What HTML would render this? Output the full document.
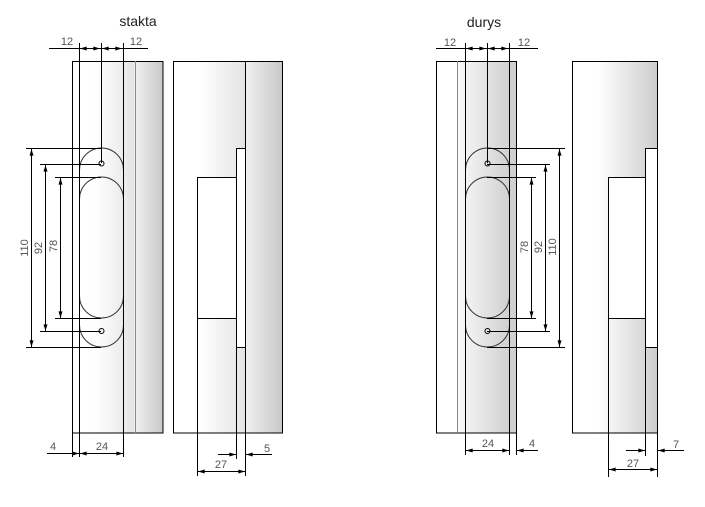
<!DOCTYPE html>
<html><head><meta charset="utf-8"><style>
html,body{margin:0;padding:0;background:#fff;}
svg{display:block;}
text{font-family:"Liberation Sans",sans-serif;fill:#555;font-size:11px;}
</style></head><body>
<svg width="705" height="507" viewBox="0 0 705 507" xmlns="http://www.w3.org/2000/svg">
<defs>
<linearGradient id="g1" x1="0" x2="1" y1="0" y2="0"><stop offset="0" stop-color="#fff"/><stop offset="0.35" stop-color="#fff"/><stop offset="1" stop-color="#e4e4e4"/></linearGradient>
<linearGradient id="g2" x1="0" x2="1" y1="0" y2="0"><stop offset="0" stop-color="#f0f0f0"/><stop offset="1" stop-color="#c8c8c8"/></linearGradient>
<linearGradient id="g3" x1="0" x2="1" y1="0" y2="0"><stop offset="0" stop-color="#fafafa"/><stop offset="1" stop-color="#d0d0d0"/></linearGradient>
<linearGradient id="g4" x1="0" x2="1" y1="0" y2="0"><stop offset="0" stop-color="#fff"/><stop offset="0.3" stop-color="#fff"/><stop offset="1" stop-color="#cdcdcd"/></linearGradient>
<marker id="a" viewBox="0 0 10 6" refX="10" refY="3" markerWidth="8" markerHeight="4" orient="auto-start-reverse"><path d="M0,0L10,3L0,6z" fill="#000"/></marker>
</defs>
<g stroke="#000" stroke-width="1" fill="none">
<!-- STAKTA left -->
<rect x="72.5" y="61.5" width="62" height="371" fill="url(#g1)" stroke="none"/>
<rect x="135" y="61.5" width="28" height="371" fill="url(#g2)" stroke="none"/>
<rect x="72.5" y="61.5" width="90.5" height="371.5"/>
<line x1="135.5" y1="61" x2="135.5" y2="433" stroke="#888"/>
<path d="M79.5,170 A22,22 0 0 1 123.5,170 M79.5,325 A22,22 0 0 0 123.5,325" stroke="#333"/>
<path d="M79.5,199 A22,22 0 0 1 123.5,199 M79.5,296 A22,22 0 0 0 123.5,296" stroke="#333"/>
<line x1="79.5" y1="199" x2="79.5" y2="296" stroke="#999"/>
<circle cx="101.5" cy="163.5" r="2.5"/><circle cx="101.5" cy="331" r="2.5"/>
<line x1="79.5" y1="43" x2="79.5" y2="457"/>
<line x1="101.5" y1="43" x2="101.5" y2="163"/>
<line x1="123.5" y1="43" x2="123.5" y2="457"/>
<line x1="72.5" y1="433" x2="72.5" y2="457"/>
<line x1="49" y1="48.5" x2="148" y2="48.5"/>
<line x1="80" y1="48.5" x2="100" y2="48.5" marker-start="url(#a)" marker-end="url(#a)"/>
<line x1="102" y1="48.5" x2="122" y2="48.5" marker-start="url(#a)" marker-end="url(#a)"/>
<line x1="26" y1="148.5" x2="101" y2="148.5"/><line x1="26" y1="347.5" x2="101" y2="347.5"/>
<line x1="40" y1="164.5" x2="101" y2="164.5"/><line x1="40" y1="331.5" x2="101" y2="331.5"/>
<line x1="55" y1="177.5" x2="101" y2="177.5"/><line x1="55" y1="318.5" x2="101" y2="318.5"/>
<line x1="31.5" y1="149" x2="31.5" y2="347" marker-start="url(#a)" marker-end="url(#a)"/>
<line x1="45.5" y1="165" x2="45.5" y2="331" marker-start="url(#a)" marker-end="url(#a)"/>
<line x1="60.5" y1="178" x2="60.5" y2="318" marker-start="url(#a)" marker-end="url(#a)"/>
<line x1="47" y1="453.5" x2="123" y2="453.5"/>
<line x1="73" y1="453.5" x2="79" y2="453.5" marker-end="url(#a)"/>
<line x1="80" y1="453.5" x2="123" y2="453.5" marker-start="url(#a)" marker-end="url(#a)"/>
<!-- STAKTA right -->
<rect x="173.5" y="61.5" width="72" height="371" fill="url(#g1)" stroke="none"/>
<rect x="245.5" y="61.5" width="37" height="371" fill="url(#g2)" stroke="none"/>
<rect x="236.5" y="148.5" width="9" height="199" fill="#fff" stroke="none"/>
<rect x="197.5" y="177.5" width="39" height="141" fill="#fff" stroke="none"/>
<rect x="173.5" y="61.5" width="109" height="371.5"/>
<line x1="245.5" y1="61" x2="245.5" y2="476"/>
<path d="M245.5,148.5H236.5V347.5H245.5"/>
<path d="M236.5,177.5H197.5V476 M197.5,318.5H236.5"/>
<line x1="236.5" y1="347" x2="236.5" y2="459"/>
<line x1="218" y1="454.5" x2="236" y2="454.5" marker-end="url(#a)"/>
<line x1="272" y1="454.5" x2="246" y2="454.5" marker-end="url(#a)"/>
<line x1="198" y1="471.5" x2="245" y2="471.5" marker-start="url(#a)" marker-end="url(#a)"/>
<!-- DURYS left -->
<rect x="436.5" y="61.5" width="21" height="371" fill="#fff" stroke="none"/>
<rect x="457.5" y="61.5" width="52" height="371" fill="url(#g3)" stroke="none"/>
<rect x="509.5" y="61.5" width="7" height="371" fill="#d0d0d0" stroke="none"/>
<rect x="436.5" y="61.5" width="80" height="371.5"/>
<line x1="457.5" y1="61" x2="457.5" y2="433" stroke="#888"/>
<path d="M465.5,170 A22,22 0 0 1 509.5,170 M465.5,325 A22,22 0 0 0 509.5,325" stroke="#333"/>
<path d="M465.5,199 A22,22 0 0 1 509.5,199 M465.5,296 A22,22 0 0 0 509.5,296" stroke="#333"/>
<circle cx="487.5" cy="163.5" r="2.5"/><circle cx="487.5" cy="331" r="2.5"/>
<line x1="465.5" y1="43" x2="465.5" y2="455"/>
<line x1="487.5" y1="43" x2="487.5" y2="163"/>
<line x1="509.5" y1="43" x2="509.5" y2="455"/>
<line x1="516.5" y1="433" x2="516.5" y2="455"/>
<line x1="436" y1="48.5" x2="538" y2="48.5"/>
<line x1="466" y1="48.5" x2="486" y2="48.5" marker-start="url(#a)" marker-end="url(#a)"/>
<line x1="488" y1="48.5" x2="508" y2="48.5" marker-start="url(#a)" marker-end="url(#a)"/>
<line x1="487" y1="148.5" x2="565" y2="148.5"/><line x1="487" y1="347.5" x2="565" y2="347.5"/>
<line x1="487" y1="164.5" x2="550" y2="164.5"/><line x1="487" y1="331.5" x2="550" y2="331.5"/>
<line x1="487" y1="177.5" x2="536" y2="177.5"/><line x1="487" y1="318.5" x2="536" y2="318.5"/>
<line x1="559.5" y1="149" x2="559.5" y2="347" marker-start="url(#a)" marker-end="url(#a)"/>
<line x1="545.5" y1="165" x2="545.5" y2="331" marker-start="url(#a)" marker-end="url(#a)"/>
<line x1="531.5" y1="178" x2="531.5" y2="318" marker-start="url(#a)" marker-end="url(#a)"/>
<line x1="466" y1="450.5" x2="509" y2="450.5" marker-start="url(#a)" marker-end="url(#a)"/>
<line x1="538" y1="450.5" x2="517" y2="450.5" marker-end="url(#a)"/>
<!-- DURYS right -->
<rect x="572.5" y="61.5" width="85" height="371" fill="url(#g4)" stroke="none"/>
<rect x="645.5" y="148.5" width="12" height="199" fill="#fff" stroke="none"/>
<rect x="608.5" y="177.5" width="37" height="141" fill="#fff" stroke="none"/>
<rect x="572.5" y="61.5" width="85" height="371.5"/>
<path d="M657.5,148.5H645.5V347.5H657.5"/>
<path d="M645.5,177.5H608.5V477 M608.5,318.5H645.5"/>
<line x1="645.5" y1="347" x2="645.5" y2="456"/>
<line x1="657.5" y1="433" x2="657.5" y2="477"/>
<line x1="626" y1="450.5" x2="645" y2="450.5" marker-end="url(#a)"/>
<line x1="684" y1="450.5" x2="658" y2="450.5" marker-end="url(#a)"/>
<line x1="609" y1="469.5" x2="657" y2="469.5" marker-start="url(#a)" marker-end="url(#a)"/>
</g>
<text x="138" y="26" text-anchor="middle" style="font-size:14px;fill:#222">stakta</text>
<text x="484" y="27" text-anchor="middle" style="font-size:14px;fill:#222">durys</text>
<text x="67" y="45" text-anchor="middle">12</text><text x="136" y="45" text-anchor="middle">12</text>
<text x="450" y="46" text-anchor="middle">12</text><text x="524" y="46" text-anchor="middle">12</text>
<text x="53" y="450" text-anchor="middle">4</text><text x="102" y="450" text-anchor="middle">24</text>
<text x="267" y="452" text-anchor="middle">5</text><text x="221" y="468" text-anchor="middle">27</text>
<text x="488" y="447" text-anchor="middle">24</text><text x="532" y="447" text-anchor="middle">4</text>
<text x="676" y="448" text-anchor="middle">7</text><text x="633" y="467" text-anchor="middle">27</text>
<text transform="translate(28,248) rotate(-90)" text-anchor="middle">110</text>
<text transform="translate(42,248) rotate(-90)" text-anchor="middle">92</text>
<text transform="translate(57,246) rotate(-90)" text-anchor="middle">78</text>
<text transform="translate(528,247) rotate(-90)" text-anchor="middle">78</text>
<text transform="translate(542,247) rotate(-90)" text-anchor="middle">92</text>
<text transform="translate(556,247) rotate(-90)" text-anchor="middle">110</text>
</svg>
</body></html>
